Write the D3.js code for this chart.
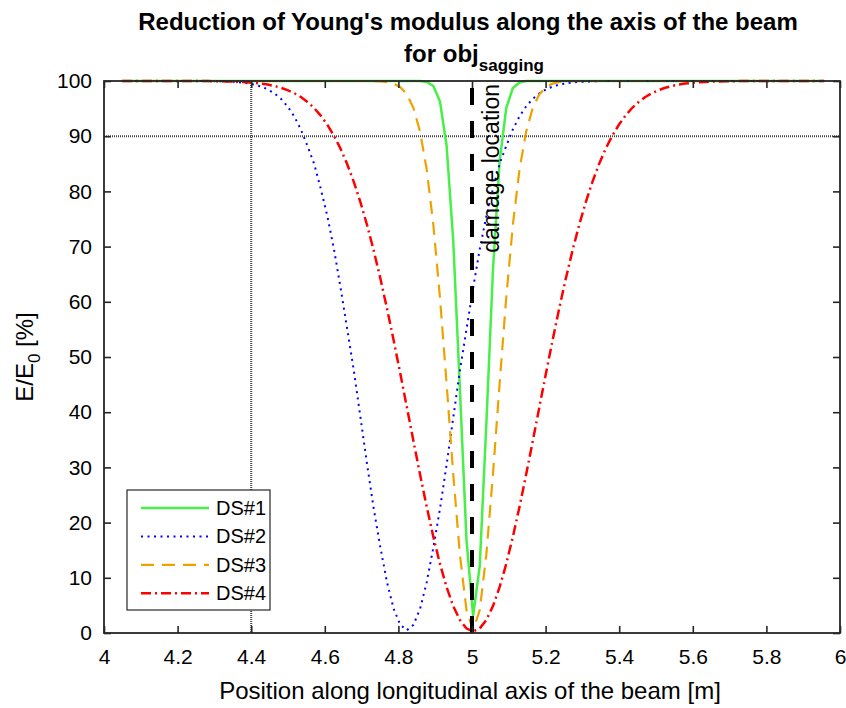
<!DOCTYPE html>
<html>
<head>
<meta charset="utf-8">
<script src="https://cdn.jsdelivr.net/npm/d3@7"></script>
<style>
  body { margin: 0; background: #fff; }
  text { font-family: "Liberation Sans", Arial, sans-serif; fill: #000; }
</style>
</head>
<body>
<svg id="chart"></svg>
<script>
// sample positions along the beam [m]
const positions = [
  4.049, 4.067, 4.085, 4.103, 4.121, 4.139, 4.157, 4.175, 4.193, 4.211,
  4.229, 4.247, 4.265, 4.283, 4.301, 4.319, 4.337, 4.355, 4.373, 4.391,
  4.409, 4.427, 4.445, 4.463, 4.481, 4.499, 4.517, 4.535, 4.553, 4.571,
  4.589, 4.607, 4.625, 4.643, 4.661, 4.679, 4.697, 4.715, 4.733, 4.751,
  4.769, 4.787, 4.805, 4.823, 4.841, 4.859, 4.877, 4.895, 4.913, 4.931,
  4.949, 4.967, 4.985, 5.003, 5.021, 5.039, 5.057, 5.075, 5.093, 5.111,
  5.129, 5.147, 5.165, 5.183, 5.201, 5.219, 5.237, 5.255, 5.273, 5.291,
  5.309, 5.327, 5.345, 5.363, 5.381, 5.399, 5.417, 5.435, 5.453, 5.471,
  5.489, 5.507, 5.525, 5.543, 5.561, 5.579, 5.597, 5.615, 5.633, 5.651,
  5.669, 5.687, 5.705, 5.723, 5.741, 5.759, 5.777, 5.795, 5.813, 5.831,
  5.849, 5.867, 5.885, 5.903, 5.921, 5.939, 5.957
];

// E/E0 [%] for each damage scenario
const ds1 = [
  100, 100, 100, 100, 100, 100, 100, 100, 100, 100,
  100, 100, 100, 100, 100, 100, 100, 100, 100, 100,
  100, 100, 100, 100, 100, 100, 100, 100, 100, 100,
  100, 100, 100, 100, 100, 100, 100, 100, 100, 100,
  100, 100, 100, 100, 100, 100, 99.83, 99.09, 96.29, 88.27,
  71.07, 44.43, 16.87, 3.15, 12.1, 37.9, 65.8, 85.35, 95.1, 98.73,
  99.74, 100, 100, 100, 100, 100, 100, 100, 100, 100,
  100, 100, 100, 100, 100, 100, 100, 100, 100, 100,
  100, 100, 100, 100, 100, 100, 100, 100, 100, 100,
  100, 100, 100, 100, 100, 100, 100, 100, 100, 100,
  100, 100, 100, 100, 100, 100, 100
];
const ds2 = [
  100, 100, 100, 100, 100, 100, 100, 100, 100, 100,
  100, 100, 100, 100, 99.97, 99.94, 99.9, 99.84, 99.73, 99.58,
  99.34, 98.99, 98.48, 97.76, 96.76, 95.39, 93.58, 91.22, 88.22, 85.0,
  80.5, 75.5, 69.5, 62.5, 55.0, 47.5, 39.0, 30.5, 22.5, 15.5,
  9.2, 4.4, 1.5, 0.5, 1.5, 4.4, 9.2, 15.5, 22.5, 30.5,
  39.0, 47.5, 55.0, 62.5, 69.5, 75.5, 80.5, 85.0, 88.22, 91.22,
  93.58, 95.39, 96.76, 97.76, 98.48, 98.99, 99.34, 99.58, 99.73, 99.84,
  99.9, 99.94, 99.97, 100, 100, 100, 100, 100, 100, 100,
  100, 100, 100, 100, 100, 100, 100, 100, 100, 100,
  100, 100, 100, 100, 100, 100, 100, 100, 100, 100,
  100, 100, 100, 100, 100, 100, 100
];
const ds3 = [
  100, 100, 100, 100, 100, 100, 100, 100, 100, 100,
  100, 100, 100, 100, 100, 100, 100, 100, 100, 100,
  100, 100, 100, 100, 100, 100, 100, 100, 100, 100,
  100, 100, 100, 100, 100, 100, 100, 100, 99.97, 99.93,
  99.81, 99.53, 98.9, 97.59, 95.1, 90.79, 83.92, 73.92, 60.74, 45.12,
  28.81, 14.25, 4.13, 0.5, 4.13, 14.25, 28.81, 45.12, 60.74, 73.92,
  83.92, 90.79, 95.1, 97.59, 98.9, 99.53, 99.81, 99.93, 99.97, 100,
  100, 100, 100, 100, 100, 100, 100, 100, 100, 100,
  100, 100, 100, 100, 100, 100, 100, 100, 100, 100,
  100, 100, 100, 100, 100, 100, 100, 100, 100, 100,
  100, 100, 100, 100, 100, 100, 100
];
const ds4 = [
  100, 100, 100, 100, 100, 100, 100, 100, 100, 100,
  100, 100, 100, 99.98, 99.97, 99.95, 99.92, 99.89, 99.84, 99.76,
  99.67, 99.53, 99.35, 99.1, 98.77, 98.35, 97.8, 97.1, 96.21, 95.1,
  93.73, 92.06, 90.07, 87.7, 84.91, 81.69, 78.01, 73.87, 69.26, 64.23,
  58.8, 53.05, 47.05, 40.91, 34.73, 28.66, 22.84, 17.41, 12.51, 8.3,
  4.88, 2.36, 0.82, 0.3, 0.82, 2.36, 4.88, 8.3, 12.51, 17.41,
  22.84, 28.66, 34.73, 40.91, 47.05, 53.05, 58.8, 64.23, 69.26, 73.87,
  78.01, 81.69, 84.91, 87.7, 90.07, 92.06, 93.73, 95.1, 96.21, 97.1,
  97.8, 98.35, 98.77, 99.1, 99.35, 99.53, 99.67, 99.76, 99.84, 99.89,
  99.92, 99.95, 99.97, 99.98, 100, 100, 100, 100, 100, 100,
  100, 100, 100, 100, 100, 100, 100
];

const seriesNames = ["DS#1", "DS#2", "DS#3", "DS#4"];
const xTicks = [4, 4.2, 4.4, 4.6, 4.8, 5, 5.2, 5.4, 5.6, 5.8, 6];
const yTicks = [0, 10, 20, 30, 40, 50, 60, 70, 80, 90, 100];
const damageLocation = 5.0;
const refPosition = 4.4;
const refLevel = 90;

const W = 846, H = 708;
const margin = { top: 81, right: 6, bottom: 75, left: 104 },
  width = W - margin.left - margin.right,
  height = H - margin.top - margin.bottom;

const svg = d3.select("#chart").attr("width", W).attr("height", H);
const g = svg.append("g").attr("transform", `translate(${margin.left},${margin.top})`);

const x = d3.scaleLinear().domain([4, 6]).range([0, width]);
const y = d3.scaleLinear().domain([0, 100]).range([height, 0]);

const styles = [
  { color: "#47ef47", width: 2.5, dash: null },
  { color: "#0000ff", width: 2, dash: "2,4.5" },
  { color: "#eea200", width: 2.2, dash: "13,8" },
  { color: "#ff0000", width: 2.5, dash: "10,4,2,4" }
];
const allSeries = [ds1, ds2, ds3, ds4];

// reference lines (dotted grey)
g.append("line")
  .attr("x1", 0).attr("x2", width)
  .attr("y1", y(refLevel)).attr("y2", y(refLevel))
  .attr("stroke", "#444").attr("stroke-width", 2)
  .attr("stroke-dasharray", "1,1");
g.append("line")
  .attr("x1", x(refPosition)).attr("x2", x(refPosition))
  .attr("y1", 0).attr("y2", height)
  .attr("stroke", "#444").attr("stroke-width", 2)
  .attr("stroke-dasharray", "1,1");

// curves
const line = d3.line()
  .x((d, i) => x(positions[i]))
  .y((d) => y(d));

allSeries.forEach((vals, k) => {
  g.append("path")
    .datum(vals)
    .attr("fill", "none")
    .attr("stroke", styles[k].color)
    .attr("stroke-width", styles[k].width)
    .attr("stroke-dasharray", styles[k].dash)
    .attr("stroke-linejoin", "round")
    .attr("d", line);
});

// damage location
g.append("line")
  .attr("x1", x(damageLocation)).attr("x2", x(damageLocation))
  .attr("y1", y(0)).attr("y2", y(100))
  .attr("stroke", "#000").attr("stroke-width", 4)
  .attr("stroke-dasharray", "17,16");

g.append("text")
  .attr("transform", `translate(${x(damageLocation) + 27},${y(100) + 3}) rotate(-90)`)
  .attr("text-anchor", "end")
  .attr("font-size", "23px")
  .text("damage location");

// axes box
const axisColor = "#262626";
const xAxis = g.append("g")
  .attr("transform", `translate(0,${height})`)
  .call(d3.axisBottom(x).tickValues(xTicks).tickSizeInner(-7).tickSizeOuter(0)
    .tickPadding(16).tickFormat(d3.format("")));
const yAxis = g.append("g")
  .call(d3.axisLeft(y).tickValues(yTicks).tickSizeInner(-7).tickSizeOuter(0)
    .tickPadding(12));
const xTop = g.append("g")
  .call(d3.axisTop(x).tickValues(xTicks).tickSizeInner(-7).tickSizeOuter(0).tickFormat(""));
const yRight = g.append("g")
  .attr("transform", `translate(${width},0)`)
  .call(d3.axisRight(y).tickValues(yTicks).tickSizeInner(-7).tickSizeOuter(0).tickFormat(""));

[xAxis, yAxis, xTop, yRight].forEach((a) => {
  a.select(".domain").remove();
  a.selectAll(".tick line").attr("stroke", axisColor).attr("stroke-width", 1.6);
  a.selectAll(".tick text")
    .attr("font-family", "Liberation Sans, Arial, sans-serif")
    .attr("font-size", "21px")
    .attr("fill", axisColor);
});

g.append("rect")
  .attr("x", 0).attr("y", 0)
  .attr("width", width).attr("height", height)
  .attr("fill", "none")
  .attr("stroke", axisColor).attr("stroke-width", 1.8);

// legend
const legend = svg.append("g").attr("transform", "translate(127,490)");
legend.append("rect")
  .attr("width", 143).attr("height", 120)
  .attr("fill", "#fff")
  .attr("stroke", axisColor).attr("stroke-width", 1.2);
seriesNames.forEach((name, k) => {
  const ly = 18 + k * 28.4;
  legend.append("line")
    .attr("x1", 14).attr("x2", 82)
    .attr("y1", ly).attr("y2", ly)
    .attr("stroke", styles[k].color)
    .attr("stroke-width", styles[k].width)
    .attr("stroke-dasharray", styles[k].dash);
  legend.append("text")
    .attr("x", 89).attr("y", ly)
    .attr("dy", "0.35em")
    .attr("font-size", "20px")
    .text(name);
});

// titles
svg.append("text")
  .attr("x", 468).attr("y", 30)
  .attr("text-anchor", "middle")
  .attr("font-size", "24px")
  .attr("font-weight", "bold")
  .text("Reduction of Young's modulus along the axis of the beam");

const title2 = svg.append("text")
  .attr("x", 474).attr("y", 62)
  .attr("text-anchor", "middle")
  .attr("font-size", "24px")
  .attr("font-weight", "bold");
title2.append("tspan").text("for obj");
title2.append("tspan").attr("dy", 9).attr("font-size", "17px").text("sagging");

svg.append("text")
  .attr("x", margin.left + width / 2 - 2).attr("y", 699)
  .attr("text-anchor", "middle")
  .attr("font-size", "24px")
  .attr("fill", axisColor)
  .text("Position along longitudinal axis of the beam [m]");

const yLabel = svg.append("text")
  .attr("transform", `translate(33,${margin.top + height / 2}) rotate(-90)`)
  .attr("text-anchor", "middle")
  .attr("font-size", "24px")
  .attr("fill", axisColor);
yLabel.append("tspan").text("E/E");
yLabel.append("tspan").attr("dy", 7).attr("font-size", "17px").text("0");
yLabel.append("tspan").attr("dy", -7).text(" [%]");
</script>
</body>
</html>
